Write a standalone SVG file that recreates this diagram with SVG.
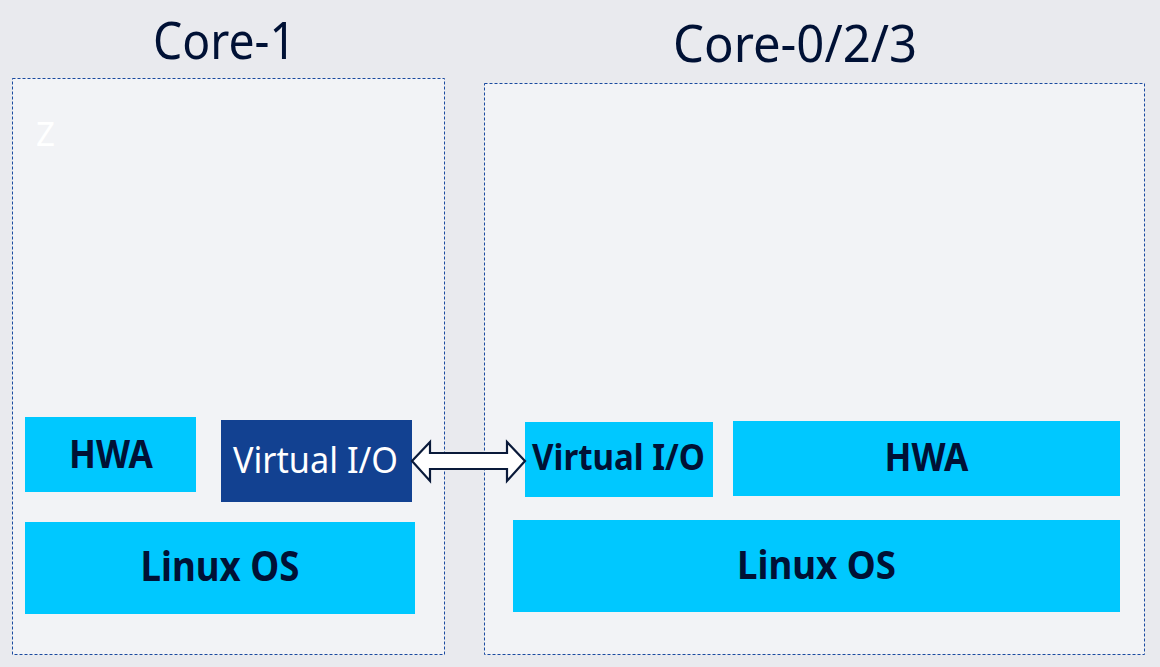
<svg xmlns="http://www.w3.org/2000/svg" width="1160" height="667" viewBox="0 0 1160 667">
<style>
.core{fill:#f2f3f6;stroke:#1a4aa0;stroke-width:1;stroke-dasharray:3 2}
.cyan{fill:#00c8ff}
.navy{fill:#124191}
.t{font-family:"Noto Sans","Open Sans",sans-serif;fill:#001135}
.b{font-weight:bold}
.title{font-family:"Noto Sans","Open Sans",sans-serif;fill:#001135;font-size:51px}
</style>
<rect width="1160" height="667" fill="#e9eaee"/>
<g id="core1">
<rect class="core" x="12.5" y="78.5" width="432" height="576"/>
<text class="title" x="153" y="59" textLength="143" lengthAdjust="spacingAndGlyphs">Core-1</text>
<text x="36" y="145.5" font-family="Noto Sans, sans-serif" font-size="33" fill="#ffffff" textLength="19" lengthAdjust="spacingAndGlyphs">Z</text>
</g>
<g id="core023">
<rect class="core" x="484.5" y="83.5" width="660" height="571"/>
<text class="title" x="673" y="61.5" textLength="244" lengthAdjust="spacingAndGlyphs">Core-0/2/3</text>
</g>
<g id="hwa-left">
<rect class="cyan" x="25" y="417" width="171" height="75"/>
<text class="t b" x="69" y="467.5" font-size="39" textLength="84" lengthAdjust="spacingAndGlyphs">HWA</text>
</g>
<g id="vio-left">
<rect class="navy" x="221" y="420" width="191" height="82"/>
<text class="t" x="233" y="472.5" font-size="36" fill="#ffffff" style="fill:#ffffff" textLength="165" lengthAdjust="spacingAndGlyphs">Virtual I/O</text>
</g>
<g id="linux-left">
<rect class="cyan" x="25" y="522" width="390" height="92"/>
<text class="t b" x="140.5" y="581" font-size="41" textLength="159" lengthAdjust="spacingAndGlyphs">Linux OS</text>
</g>
<g id="vio-right">
<rect class="cyan" x="525" y="422" width="188" height="75"/>
<text class="t b" x="532" y="470" font-size="36" textLength="173" lengthAdjust="spacingAndGlyphs">Virtual I/O</text>
</g>
<g id="hwa-right">
<rect class="cyan" x="733" y="421" width="387" height="75"/>
<text class="t b" x="884.5" y="471" font-size="39" textLength="84" lengthAdjust="spacingAndGlyphs">HWA</text>
</g>
<g id="linux-right">
<rect class="cyan" x="513" y="520" width="607" height="92"/>
<text class="t b" x="737" y="578.5" font-size="40" textLength="159" lengthAdjust="spacingAndGlyphs">Linux OS</text>
</g>
<g id="connectors">
<polygon points="412,461 430,442 430,453 507,453 507,442 525,461 507,481 507,469 430,469 430,481" fill="#ffffff" stroke="#0a1a3a" stroke-width="2.2" stroke-linejoin="miter"/>
</g>
</svg>
